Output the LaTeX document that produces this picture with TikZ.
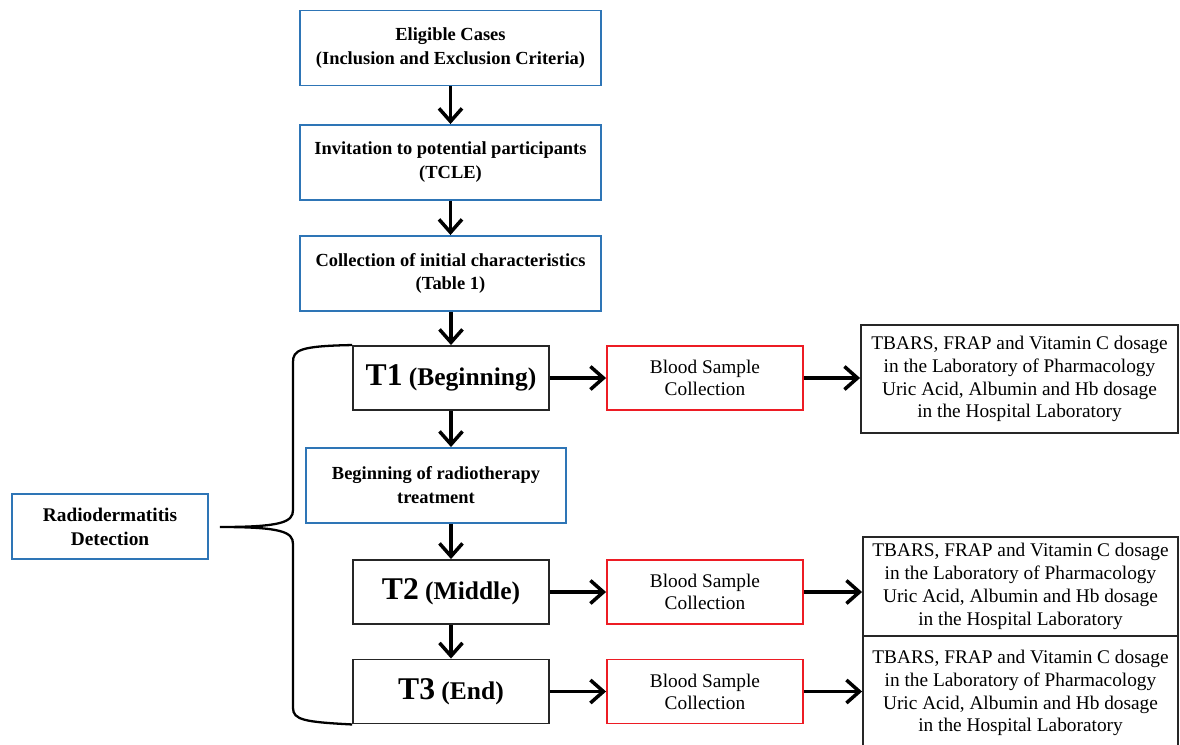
\documentclass[tikz,border=0pt]{standalone}
\usepackage{fontspec}
\setmainfont{Liberation Serif}
\usetikzlibrary{arrows.meta}
\definecolor{stepblue}{RGB}{46,117,182}
\definecolor{samplered}{RGB}{237,28,36}
\newcommand{\timelabel}[2]{{\fontsize{18}{20}\selectfont #1} (#2)}

\begin{document}
\begin{tikzpicture}[
    x=0.02cm, y=-0.02cm,
    fc box/.style={
        draw,
        line width=1.1pt,
        align=center,
        inner sep=2pt
    },
    fc step/.style={
        fc box,
        draw=stepblue,
        font=\bfseries\fontsize{10.5}{13.6}\selectfont,
        minimum width=6.02cm,
        minimum height=1.5cm
    },
    fc time/.style={
        fc box,
        draw=black!85,
        font=\bfseries\fontsize{14.5}{16}\selectfont,
        minimum width=3.92cm,
        minimum height=1.28cm
    },
    fc sample/.style={
        fc box,
        draw=samplered,
        font=\fontsize{11}{12.5}\selectfont,
        minimum width=3.92cm,
        minimum height=1.28cm
    },
    fc dosage/.style={
        fc box,
        draw=black!85,
        font=\fontsize{11}{13}\selectfont,
        minimum width=6.3cm
    },
    fc arrow/.style={
        -{Straight Barb[length=2.6mm,width=4.6mm,line width=2pt]},
        line width=2pt,
        draw=black
    },
    fc brace/.style={
        line width=1.3pt,
        draw=black
    }
]
    \useasboundingbox (0,0) rectangle (1180,744);

    % Vorbereitung
    \node[fc step] (eligible) at (450.5,48)
        {Eligible Cases\\(Inclusion and Exclusion Criteria)};
    \node[fc step] (invitation) at (450.5,162.5)
        {Invitation to potential participants\\(TCLE)};
    \node[fc step] (initial) at (450.5,273.5)
        {Collection of initial characteristics\\(Table 1)};

    % Zeitpunkte mit Blutentnahme
    \foreach \row/\ypos/\phase in {1/378/Beginning,2/592/Middle,3/691.5/End} {
        \node[fc time] (t\row) at (451,\ypos) {\timelabel{T\row}{\phase}};
        \node[fc sample] (blood\row) at (705,\ypos) {Blood Sample\\Collection};
        \draw[fc arrow] (t\row) -- (blood\row);
    }
    \node[fc step, minimum width=5.2cm] (radio) at (436,485.5)
        {Beginning of radiotherapy\\treatment};
    \node[fc step, minimum width=3.92cm, minimum height=1.3cm,
        font=\bfseries\fontsize{11}{13.6}\selectfont] (detection) at (110,526.5)
        {Radiodermatitis\\Detection};

    % Laborbestimmungen
    \node[fc dosage, minimum width=6.34cm, minimum height=2.16cm] (tbars1) at (1019.5,379)
        {TBARS, FRAP and Vitamin C dosage\\in the Laboratory of Pharmacology\\
         Uric Acid, Albumin and Hb dosage\\in the Hospital Laboratory};
    \node[fc dosage, minimum height=1.98cm] (tbars2) at (1020.5,586.5)
        {TBARS, FRAP and Vitamin C dosage\\in the Laboratory of Pharmacology\\
         Uric Acid, Albumin and Hb dosage\\in the Hospital Laboratory};
    \node[fc dosage, minimum height=2.3cm] (tbars3) at (1020.5,693)
        {TBARS, FRAP and Vitamin C dosage\\in the Laboratory of Pharmacology\\
         Uric Acid, Albumin and Hb dosage\\in the Hospital Laboratory};

    % Pfeile
    \draw[fc arrow] (eligible) -- (invitation);
    \draw[fc arrow] (invitation) -- (initial);
    \draw[fc arrow] (initial.south -| t1) -- (t1);
    \draw[fc arrow] (t1) -- (t1 |- radio.north);
    \draw[fc arrow] (t1 |- radio.south) -- (t2);
    \draw[fc arrow] (t2) -- (t3);
    \foreach \row in {1,2,3} {
        \draw[fc arrow] (blood\row.east) -- (blood\row.east -| tbars\row.west);
    }

    % Klammer zur Radiodermatitis
    \coordinate (bracetip) at (220,527);
    \draw[fc brace] (t1.north west) .. controls (300,346) and (293,350) .. (293,362)
        -- (293,510) .. controls (293,522) and (282,527) .. (bracetip)
        .. controls (282,527) and (293,532) .. (293,544)
        -- (293,708) .. controls (293,720) and (305,722) .. (t3.south west);
\end{tikzpicture}
\end{document}
